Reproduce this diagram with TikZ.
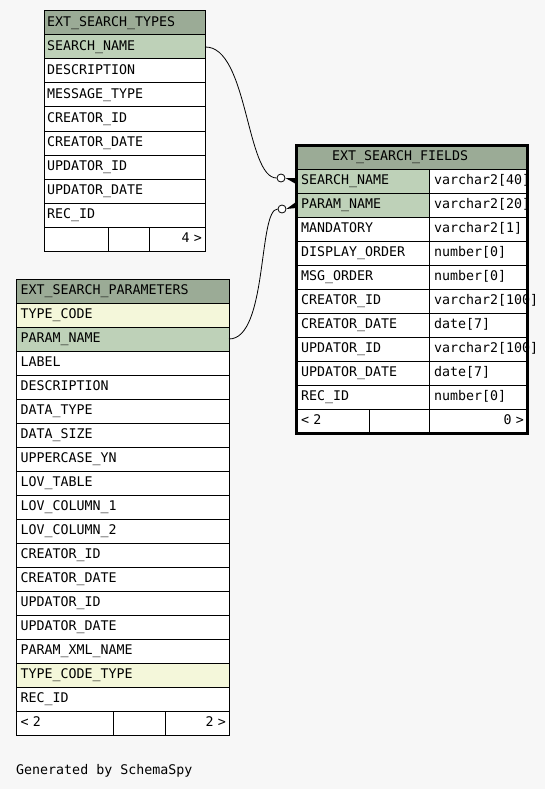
\documentclass[tikz,border=0pt]{standalone}
\usepackage{fontspec}
\setmainfont{DejaVu Sans Mono}
\usepackage{tikz}

\definecolor{pagebg}{HTML}{F7F7F7}
\definecolor{headbg}{HTML}{9BAB96}
\definecolor{keybg}{HTML}{BED1B8}
\definecolor{idxbg}{HTML}{F4F7DA}

\tikzset{
  cell/.style={draw, line width=1pt, fill=white, anchor=north west, align=left,
    minimum height=24pt, inner xsep=3pt, inner ysep=0pt, outer sep=0pt,
    text height=9.5pt, text depth=2.5pt, font=\fontsize{13.3}{16}\selectfont},
  rowcell/.style={cell},
  keycell/.style={cell, fill=keybg},
  idxcell/.style={cell, fill=idxbg},
  headcell/.style={cell, fill=headbg},
  tycol/.style={text width=155pt},
  prcol/.style={inner xsep=4.5pt, text width=204pt},
  fdname/.style={inner xsep=5pt, text width=123pt},
  fdtype/.style={inner xsep=5pt, text width=88pt},
  crowo/.style={circle, draw, fill=white, line width=0.8pt, inner sep=0pt, minimum size=8pt},
}

\begin{document}
\begin{tikzpicture}[x=1pt, y=-1pt]
    \fill[pagebg] (0,0) rectangle (545,789);
    \useasboundingbox (0,0) rectangle (545,789);
    % EXT_SEARCH_TYPES
    \node[headcell, tycol] (types-h) at (44,11) {EXT\_SEARCH\_TYPES};
    \foreach \name/\kind [count=\i] in {SEARCH\_NAME/keycell, DESCRIPTION/rowcell,
        MESSAGE\_TYPE/rowcell, CREATOR\_ID/rowcell, CREATOR\_DATE/rowcell,
        UPDATOR\_ID/rowcell, UPDATOR\_DATE/rowcell, REC\_ID/rowcell}
      \node[\kind, tycol] (types-\i) at (44,{35+24*(\i-1)}) {\name};
    \node[cell, text width=58pt] (types-f1) at (44,227) {};
    \node[cell, text width=35pt] (types-f2) at (108,227) {};
    \node[cell, text width=50pt, align=right] (types-f3) at (149,227) {4 >};
    % EXT_SEARCH_PARAMETERS
    \node[headcell, prcol] (params-h) at (16,279) {EXT\_SEARCH\_PARAMETERS};
    \foreach \name/\kind [count=\i] in {TYPE\_CODE/idxcell, PARAM\_NAME/keycell,
        LABEL/rowcell, DESCRIPTION/rowcell, DATA\_TYPE/rowcell, DATA\_SIZE/rowcell,
        UPPERCASE\_YN/rowcell, LOV\_TABLE/rowcell, LOV\_COLUMN\_1/rowcell,
        LOV\_COLUMN\_2/rowcell, CREATOR\_ID/rowcell, CREATOR\_DATE/rowcell,
        UPDATOR\_ID/rowcell, UPDATOR\_DATE/rowcell, PARAM\_XML\_NAME/rowcell,
        TYPE\_CODE\_TYPE/idxcell, REC\_ID/rowcell}
      \node[\kind, prcol] (params-\i) at (16,{303+24*(\i-1)}) {\name};
    \node[cell, inner xsep=4.5pt, text width=88pt] (params-f1) at (16,711) {< 2};
    \node[cell, text width=46pt] (params-f2) at (113,711) {};
    \node[cell, text width=58pt, align=right] (params-f3) at (165,711) {2 >};
    % Relationships
    \node[crowo] (o1) at (281,178) {};
    \node[crowo] (o2) at (282,209) {};
    \draw[line width=0.8pt] (types-1.east) .. controls (248,46) and (246,178) .. (o1);
    \draw[line width=0.8pt] (params-2.east) .. controls (268,339) and (258,209) .. (o2);
    % EXT_SEARCH_FIELDS
    \node[headcell, text width=225pt] (fields-h) at (296,145) {\hspace*{33pt}EXT\_SEARCH\_FIELDS};
    \foreach \name/\type/\kind [count=\i] in {SEARCH\_NAME/varchar2[40]/keycell,
        PARAM\_NAME/varchar2[20]/keycell, MANDATORY/varchar2[1]/rowcell,
        DISPLAY\_ORDER/number[0]/rowcell, MSG\_ORDER/number[0]/rowcell,
        CREATOR\_ID/varchar2[100]/rowcell, CREATOR\_DATE/date[7]/rowcell,
        UPDATOR\_ID/varchar2[100]/rowcell, UPDATOR\_DATE/date[7]/rowcell,
        REC\_ID/number[0]/rowcell}
    {
      \node[\kind, fdname] (fields-\i) at (296,{169+24*(\i-1)}) {\name};
      \node[rowcell, fdtype] (fields-t\i) at (429,{169+24*(\i-1)}) {\type};
    }
    \node[cell, inner xsep=5pt, text width=63pt] (fields-f1) at (296,409) {< 2};
    \node[cell, text width=54pt] (fields-f2) at (369,409) {};
    \node[cell, text width=92pt, align=right] (fields-f3) at (429,409) {0 >};
    \fill (o1.east) -- ([yshift=3pt]fields-1.west) -- ([yshift=-3pt]fields-1.west) -- cycle;
    \fill (o2.east) -- ([yshift=3pt]fields-2.west) -- ([yshift=-3pt]fields-2.west) -- cycle;
    \draw[line width=3pt] (fields-h.north west) rectangle (fields-f3.south east);
    % Footer note
    \node[anchor=base west, inner sep=0pt, font=\fontsize{13.3}{16}\selectfont] (credit) at (16,774) {Generated by SchemaSpy};
\end{tikzpicture}
\end{document}
